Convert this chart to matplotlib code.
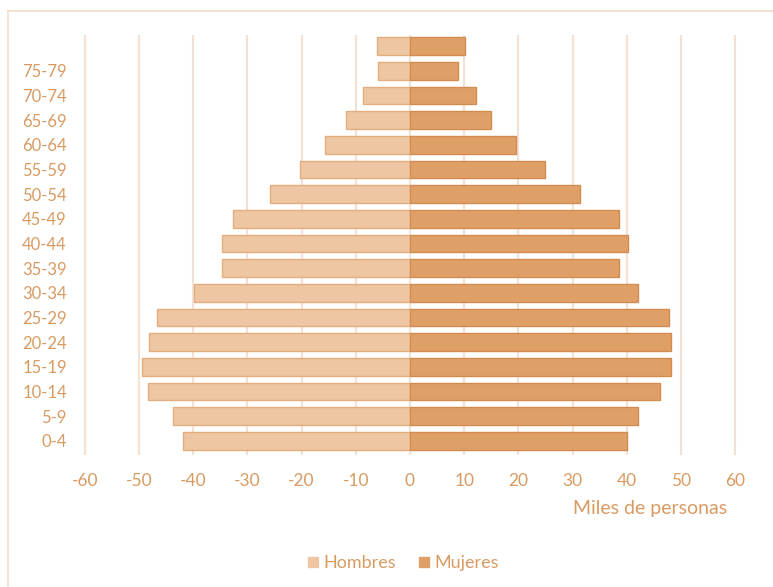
import matplotlib.pyplot as plt
from matplotlib.lines import Line2D

plt.rcParams['font.family'] = ['Lato', 'DejaVu Sans']

grupos = ['0-4', '5-9', '10-14', '15-19', '20-24', '25-29', '30-34', '35-39',
          '40-44', '45-49', '50-54', '55-59', '60-64', '65-69', '70-74', '75-79', '']
hombres = [41.9, 43.7, 48.3, 49.4, 48.2, 46.7, 39.9, 34.7,
           34.7, 32.7, 25.8, 20.3, 15.7, 11.8, 8.7, 5.9, 6.1]
mujeres = [40.0, 42.0, 46.1, 48.2, 48.2, 47.8, 42.1, 38.6,
           40.2, 38.6, 31.4, 24.9, 19.6, 14.9, 12.2, 8.9, 10.1]
ticks_x = [-60, -50, -40, -30, -20, -10, 0, 10, 20, 30, 40, 50, 60]

c_texto = '#D99A62'
c_hom = '#EEC6A2'
c_hom_borde = '#E2AE80'
c_muj = '#DFA068'
c_muj_borde = '#D38C50'
c_grid = '#F3E2D4'

fig = plt.figure(figsize=(7.73, 5.87), dpi=100)
ax = fig.add_axes([0.1027, 0.2249, 0.8554, 0.7155])

y = list(range(len(grupos)))
ax.barh(y, [-h for h in hombres], height=0.72, color=c_hom,
        edgecolor=c_hom_borde, linewidth=1.0, zorder=3)
ax.barh(y, mujeres, height=0.72, color=c_muj,
        edgecolor=c_muj_borde, linewidth=1.0, zorder=3)

for t in ticks_x:
    ax.axvline(t, color=c_grid, linewidth=1.5, zorder=1)

ax.set_xlim(-61, 61)
ax.set_ylim(-0.57, 16.45)
ax.set_xticks(ticks_x)
ax.set_xticklabels([str(t) for t in ticks_x])
ax.set_yticks(y)
ax.set_yticklabels(grupos)
ax.tick_params(axis='x', length=0, pad=13, labelsize=12.5, labelcolor=c_texto)
ax.tick_params(axis='y', length=0, pad=9, labelsize=12, labelcolor=c_texto)
for s in ax.spines.values():
    s.set_visible(False)

fig.text(0.941, 0.133, 'Miles de personas', ha='right', va='center',
         fontsize=14, color=c_texto)

handles = [Line2D([], [], marker='s', linestyle='', markersize=7,
                  markerfacecolor=c_hom, markeredgecolor=c_hom),
           Line2D([], [], marker='s', linestyle='', markersize=7,
                  markerfacecolor=c_muj, markeredgecolor=c_muj)]
leg = fig.legend(handles, ['Hombres', 'Mujeres'], loc='center',
                 bbox_to_anchor=(0.521, 0.041), ncol=2, frameon=False,
                 fontsize=13, handlelength=0.7, handletextpad=0.2,
                 columnspacing=1.2)
for txt in leg.get_texts():
    txt.set_color(c_texto)

# marco exterior
fig.add_artist(Line2D([8 / 773, 8 / 773], [0, 1 - 11 / 587], color='#F3E0D0',
                      linewidth=1.2, transform=fig.transFigure))
fig.add_artist(Line2D([8 / 773, 1], [1 - 11 / 587, 1 - 11 / 587], color='#F3DCC8',
                      linewidth=1.2, transform=fig.transFigure))

fig.savefig('out.png', dpi=100)
